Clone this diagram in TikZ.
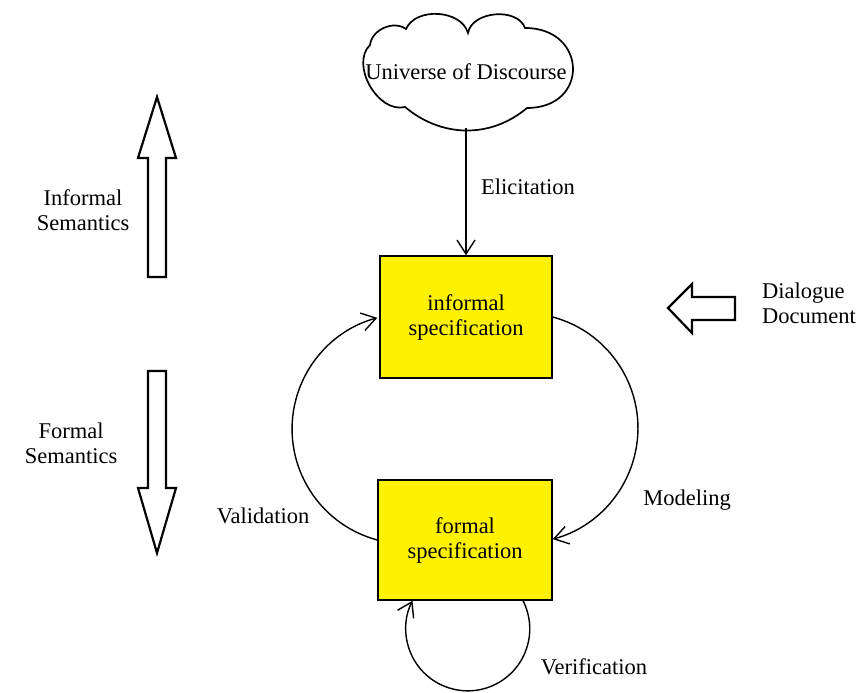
\documentclass[tikz,border=0pt]{standalone}
\usepackage{fontspec}
\setmainfont{Liberation Serif}
\usetikzlibrary{arrows.meta}
\begin{document}
\begin{tikzpicture}[x=1pt,y=1pt,
  lbl/.style={font=\fontsize{22.5}{25}\selectfont, align=center, inner sep=0pt},
  specbox/.style={draw, line width=1.4pt, fill=yellow, minimum width=172pt, minimum height=122pt, lbl},
  conn/.style={line width=1.4pt, -{Straight Barb[length=14pt,width=18pt,line width=1.4pt]}},
  blockarrow/.style={draw, line width=2.2pt, fill=white, line join=miter}
]
\useasboundingbox (0,0) rectangle (867,693);

% cloud
\draw[line width=1.7pt] (405,586) to[out=194,in=224] (370,648) to[out=84,in=144] (406,664)
  to[out=66,in=106] (468,660) to[out=80,in=110] (525,665)
  to[out=0,in=0,looseness=2] (527,585) to[out=220,in=-40] (405,586) -- cycle;
\node[lbl, minimum width=215pt, minimum height=112pt] (uod) at (466,621) {Universe of Discourse};

% boxes
\node[specbox] (inf) at (466,376) {informal\\specification};
\node[specbox, minimum width=174pt, minimum height=120pt] (form) at (465,153) {formal\\specification};

% connectors
\draw[conn] (uod.south) -- (inf.north);
\draw[conn] (form.west) arc[start angle=-105, end angle=-255, radius=115];
\draw[conn] (inf.east) arc[start angle=75, end angle=-75, radius=115];
\draw[conn] ([xshift=58pt]form.south) arc[start angle=27, end angle=-207, radius=62];

% labels
\node[lbl] (elic) at (528,506) {Elicitation};
\node[lbl] (valid) at (263,177) {Validation};
\node[lbl] (model) at (687,193) {Modeling};
\node[lbl] (verif) at (594,26) {Verification};
\node[lbl] (isem) at (83,483) {Informal\\Semantics};
\node[lbl] (fsem) at (71,250) {Formal\\Semantics};
\node[lbl, align=left, anchor=west] (dial) at (762,390) {Dialogue\\Document};

% block arrows
\draw[blockarrow] (148,416) -- (148,535) -- (138,535) -- (157,596) -- (176,535) -- (166,535) -- (166,416) -- cycle;
\draw[blockarrow] (148,322) -- (148,205) -- (138,205) -- (157,140) -- (176,205) -- (166,205) -- (166,322) -- cycle;
\draw[blockarrow] (735,396) -- (692,396) -- (692,409) -- (668,385) -- (692,360) -- (692,373) -- (735,373) -- cycle;
\end{tikzpicture}
\end{document}
